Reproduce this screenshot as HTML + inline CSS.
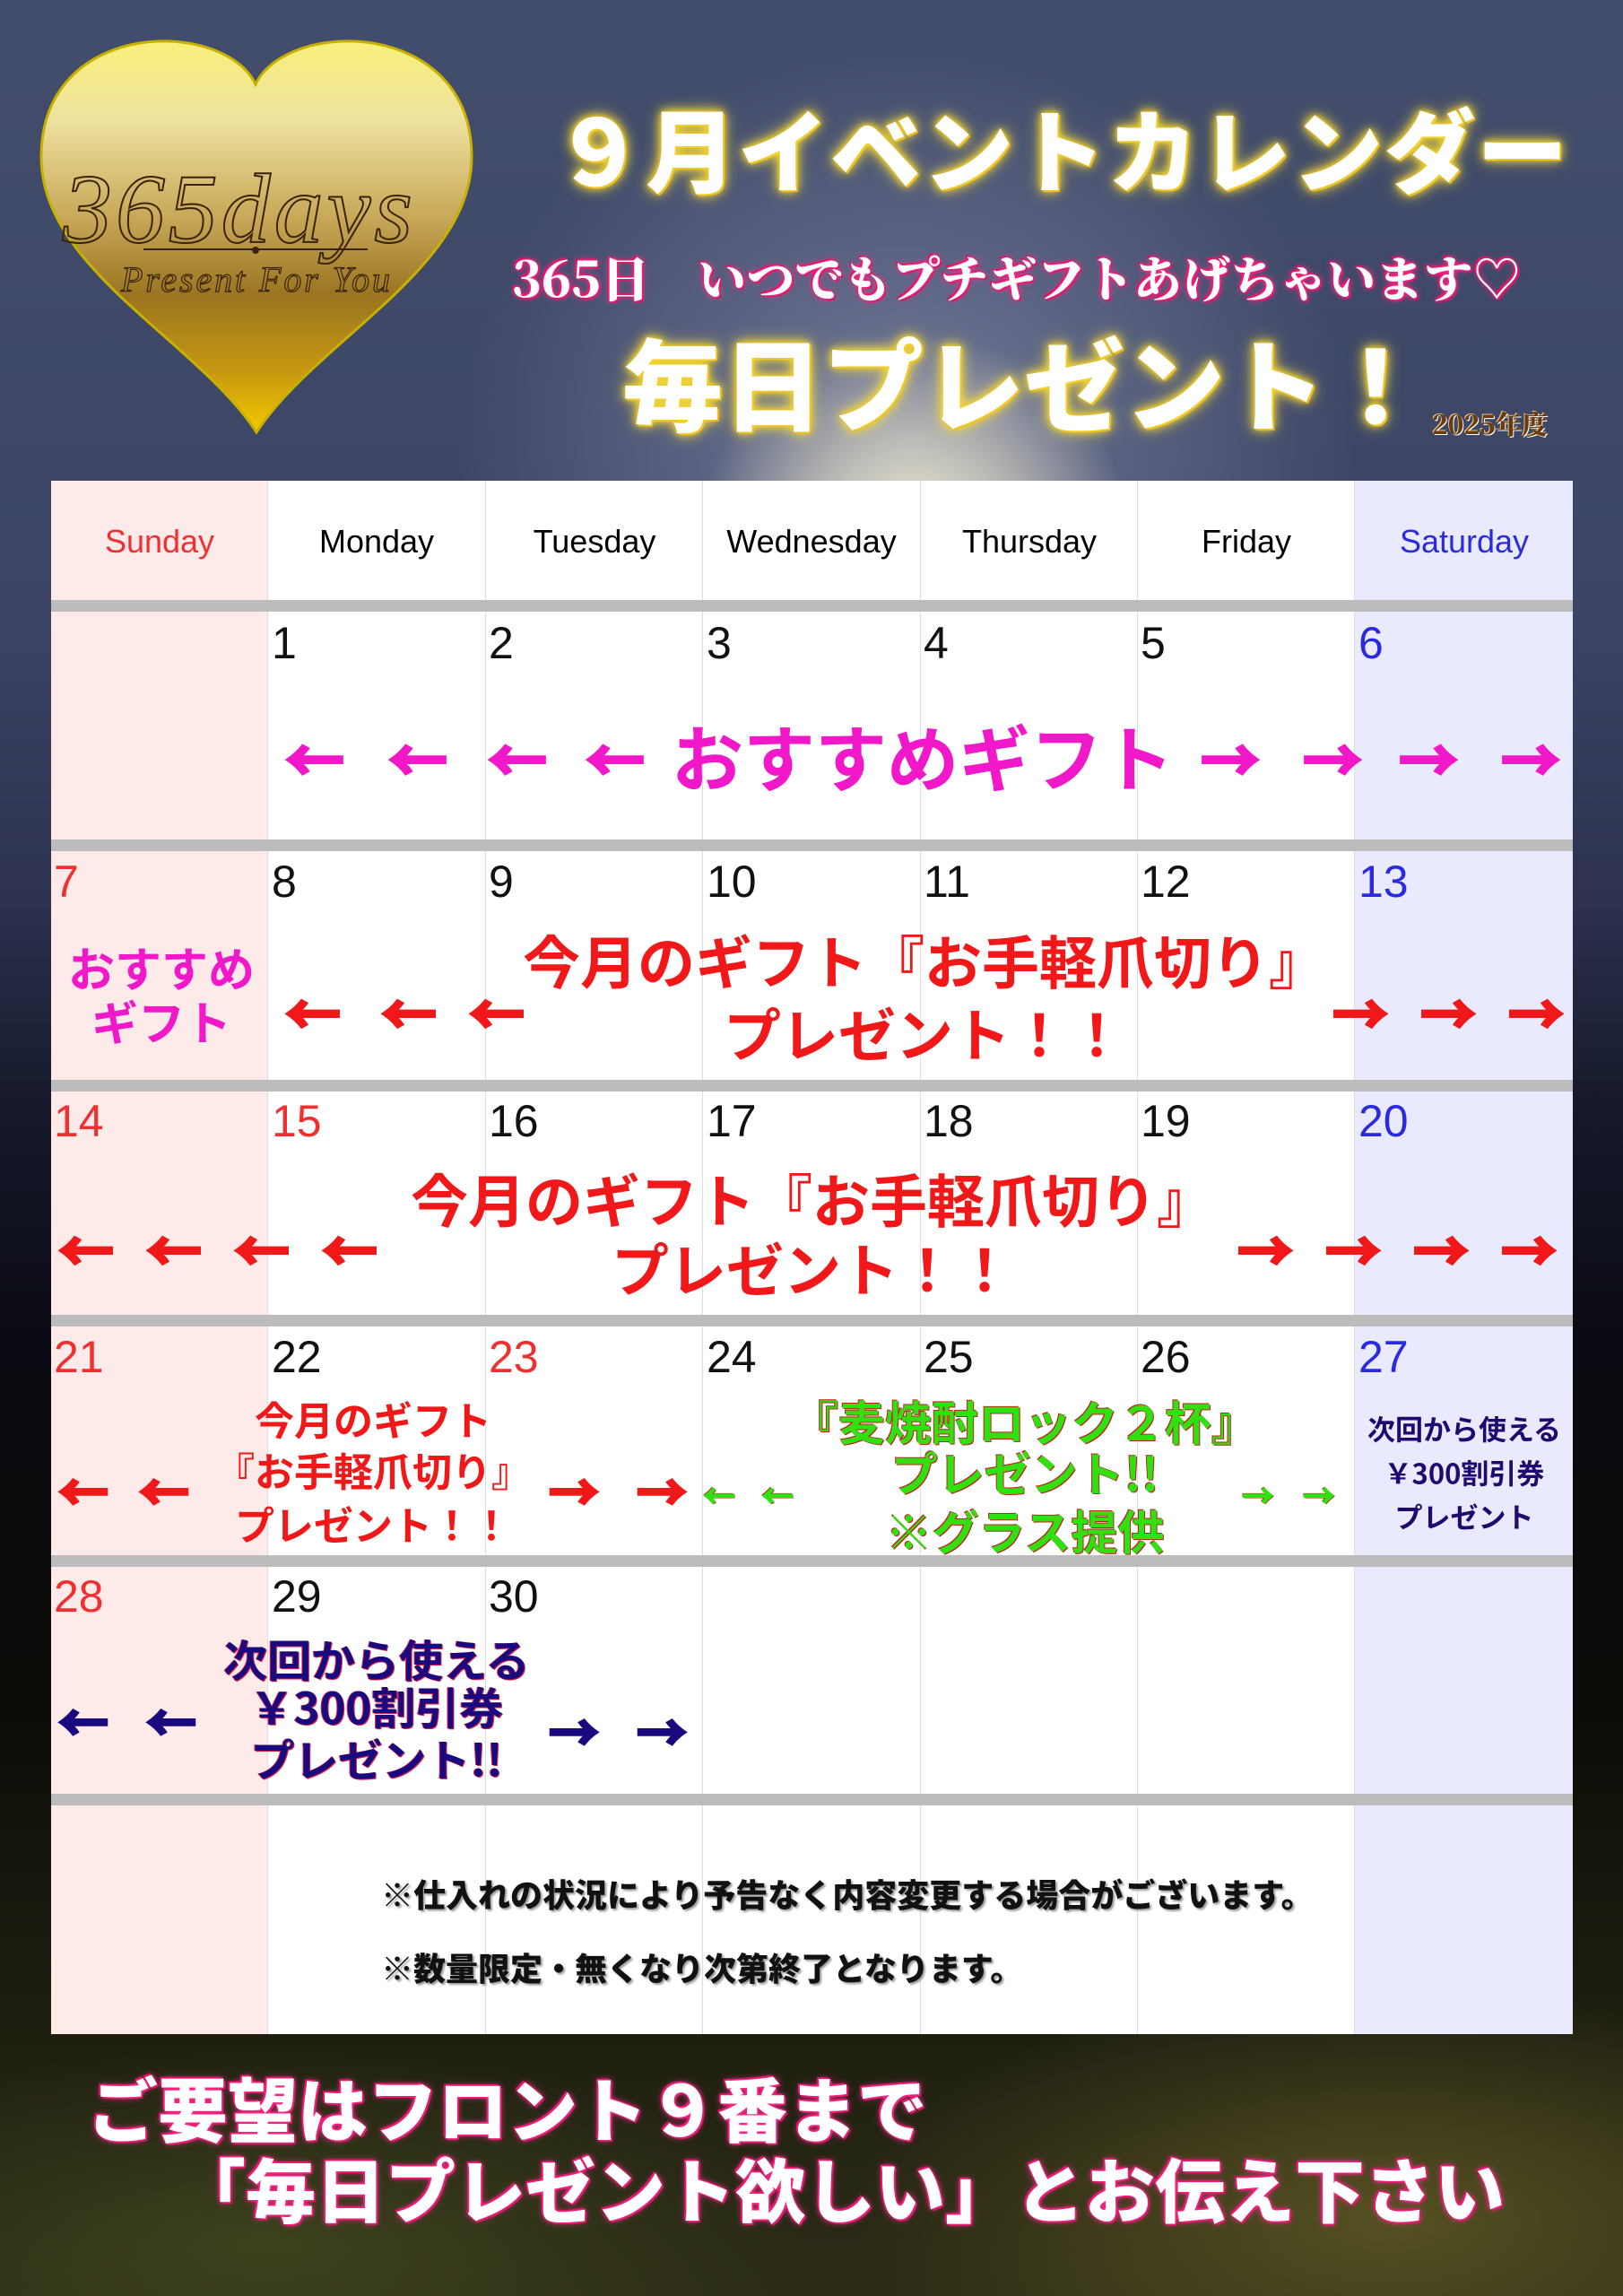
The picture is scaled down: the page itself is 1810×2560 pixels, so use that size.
<!DOCTYPE html>
<html><head><meta charset="utf-8">
<style>
*{margin:0;padding:0;box-sizing:border-box}
body{width:1810px;height:2560px;position:relative;overflow:hidden;font-family:"Liberation Sans","Noto Sans CJK JP",sans-serif;
background:
radial-gradient(ellipse 240px 230px at 1020px 600px,rgba(255,250,220,0.95),rgba(230,225,200,0.6) 50%,rgba(120,125,160,0) 100%),
radial-gradient(ellipse 500px 450px at 1010px 500px,rgba(170,175,205,0.5),rgba(70,80,110,0) 100%),
radial-gradient(ellipse 600px 260px at 1550px 2470px,rgba(140,130,50,0.45),rgba(0,0,0,0) 100%),
radial-gradient(ellipse 600px 220px at 300px 2500px,rgba(90,100,40,0.4),rgba(0,0,0,0) 100%),
linear-gradient(#434d6c 0px,#3b4463 700px,#2c3250 1000px,#141828 1250px,#0a0a12 1500px,#0c0c08 1900px,#1e1e10 2250px,#2c2c16 2560px);}
.a{position:absolute;white-space:nowrap;line-height:1}
.c{transform:translate(-50%,-50%)}
.cal{position:absolute;left:57px;top:536px;width:1697px;height:1732px;background:#fff}
.col{position:absolute;top:0;height:1732px;width:242.4px;border-right:1px solid #ddd}
.band{position:absolute;left:0;width:1697px;height:13px;background:#bcbcbc}
.dn{position:absolute;font-size:36px;transform:translate(-50%,-50%);top:68px}
.num{position:absolute;font-size:50px;line-height:1;font-family:"Liberation Sans",sans-serif;color:#111}
.ar{position:absolute;font-family:"Noto Sans CJK JP",sans-serif;font-weight:900;line-height:1;transform:translateY(-50%);-webkit-text-stroke:3px currentColor}
.red{color:#f01818;font-weight:700;font-family:"Noto Sans CJK JP",sans-serif}
.pink{color:#f018c8;font-family:"Noto Sans CJK JP",sans-serif;font-weight:700}
.grn{color:#30e010;font-weight:700;font-family:"Noto Sans CJK JP",sans-serif;text-shadow:1px 1px 0 #c02020,-1px -1px 0 #c02020}
.pur{color:#200a70;font-weight:700;font-family:"Noto Sans CJK JP",sans-serif}
.pur2{color:#1a0a80;font-weight:700;font-family:"Noto Sans CJK JP",sans-serif;text-shadow:1px 1px 0 #e02040,-1px 0 0 #e02040}
.gl{color:#fff;font-weight:900;font-family:"Noto Sans CJK JP",sans-serif;text-shadow:0 0 4px #f0c020,0 0 10px #f8e030,0 0 18px #ffe040,2px 2px 0 #e0a010}
.bt{color:#fff;font-weight:900;font-family:"Noto Sans CJK JP",sans-serif;text-shadow:0 0 3px #ff2080,0 0 8px #ff3090,2px 2px 0 #d01060,-2px -2px 0 #d01060}
</style></head><body>

<svg class="a" style="left:0;top:0" width="600" height="520">
<defs><linearGradient id="g" x1="0" y1="0" x2="0" y2="1">
<stop offset="0" stop-color="#f8f07a"/><stop offset="0.2" stop-color="#efe2a0"/><stop offset="0.45" stop-color="#c8a858"/><stop offset="0.65" stop-color="#9a7420"/><stop offset="0.85" stop-color="#c89a10"/><stop offset="1" stop-color="#f4c800"/></linearGradient></defs>
<path d="M285 94 C250 20,46 20,46 175 C46 300,220 380,286 482 C352 380,526 300,526 175 C526 20,320 20,285 94Z" fill="url(#g)" stroke="#c8b000" stroke-width="3"/>
<text x="70" y="270" font-family="Liberation Serif,serif" font-style="italic" font-size="110" fill="none" stroke="#3a2408" stroke-width="2" textLength="390">365days</text>
<line x1="160" y1="278" x2="410" y2="278" stroke="#3a2408" stroke-width="2"/>
<circle cx="285" cy="279" r="4" fill="#3a2408"/>
<text x="135" y="325" font-family="Liberation Serif,serif" font-style="italic" font-size="40" fill="none" stroke="#3a2408" stroke-width="1.2" textLength="300">Present For You</text>
</svg>

<div class="a gl" style="left:617px;top:114px;font-size:101px;letter-spacing:2px">９月イベントカレンダー</div>
<div class="a bt" style="left:571px;top:282px;font-size:54px;font-family:'Noto Serif CJK SC',serif">365日　いつでもプチギフトあげちゃいます♡</div>
<div class="a gl" style="left:694px;top:368px;font-size:112px">毎日プレゼント！</div>
<div class="a" style="left:1597px;top:458px;font-size:29px;font-weight:900;color:#6a3a10;font-family:'Noto Serif CJK SC',serif;text-shadow:1px 1px 0 #fff,-1px -1px 0 #e0c080">2025年度</div>

<div class="cal">
<div class="col" style="left:0;background:#ffeaea"></div>
<div class="col" style="left:242.4px"></div>
<div class="col" style="left:484.8px"></div>
<div class="col" style="left:727.2px"></div>
<div class="col" style="left:969.6px"></div>
<div class="col" style="left:1212px"></div>
<div class="col" style="left:1454.4px;background:#eaeaff;border-right:none"></div>
<div class="dn" style="left:121px;color:#f03030">Sunday</div>
<div class="dn" style="left:363px">Monday</div>
<div class="dn" style="left:606px">Tuesday</div>
<div class="dn" style="left:848px">Wednesday</div>
<div class="dn" style="left:1091px">Thursday</div>
<div class="dn" style="left:1333px">Friday</div>
<div class="dn" style="left:1576px;color:#2a2ae0">Saturday</div>
<div class="band" style="top:133px"></div>
<div class="band" style="top:400px"></div>
<div class="band" style="top:668px"></div>
<div class="band" style="top:930px"></div>
<div class="band" style="top:1198px"></div>
<div class="band" style="top:1464px"></div>
</div>

<div class="num" style="left:303px;top:692px">1</div>
<div class="num" style="left:545px;top:692px">2</div>
<div class="num" style="left:788px;top:692px">3</div>
<div class="num" style="left:1030px;top:692px">4</div>
<div class="num" style="left:1272px;top:692px">5</div>
<div class="num" style="left:1515px;top:692px;color:#2a2ae0">6</div>
<div class="num" style="left:60px;top:958px;color:#f03030">7</div>
<div class="num" style="left:303px;top:958px">8</div>
<div class="num" style="left:545px;top:958px">9</div>
<div class="num" style="left:788px;top:958px">10</div>
<div class="num" style="left:1030px;top:958px">11</div>
<div class="num" style="left:1272px;top:958px">12</div>
<div class="num" style="left:1515px;top:958px;color:#2a2ae0">13</div>
<div class="num" style="left:60px;top:1225px;color:#f03030">14</div>
<div class="num" style="left:303px;top:1225px;color:#f03030">15</div>
<div class="num" style="left:545px;top:1225px">16</div>
<div class="num" style="left:788px;top:1225px">17</div>
<div class="num" style="left:1030px;top:1225px">18</div>
<div class="num" style="left:1272px;top:1225px">19</div>
<div class="num" style="left:1515px;top:1225px;color:#2a2ae0">20</div>
<div class="num" style="left:60px;top:1488px;color:#f03030">21</div>
<div class="num" style="left:303px;top:1488px">22</div>
<div class="num" style="left:545px;top:1488px;color:#f03030">23</div>
<div class="num" style="left:788px;top:1488px">24</div>
<div class="num" style="left:1030px;top:1488px">25</div>
<div class="num" style="left:1272px;top:1488px">26</div>
<div class="num" style="left:1515px;top:1488px;color:#2a2ae0">27</div>
<div class="num" style="left:60px;top:1755px;color:#f03030">28</div>
<div class="num" style="left:303px;top:1755px">29</div>
<div class="num" style="left:545px;top:1755px">30</div>

<div class="a c pink" style="left:1029px;top:842px;font-size:80px">おすすめギフト</div>
<div class="ar pink" style="left:318px;top:844px;font-size:66px">←</div>
<div class="ar pink" style="left:433px;top:844px;font-size:66px">←</div>
<div class="ar pink" style="left:544px;top:844px;font-size:66px">←</div>
<div class="ar pink" style="left:653px;top:844px;font-size:66px">←</div>
<div class="ar pink" style="left:1339px;top:844px;font-size:66px">→</div>
<div class="ar pink" style="left:1453px;top:844px;font-size:66px">→</div>
<div class="ar pink" style="left:1560px;top:844px;font-size:66px">→</div>
<div class="ar pink" style="left:1674px;top:844px;font-size:66px">→</div>

<div class="a c pink" style="left:180px;top:1078px;font-size:52px">おすすめ</div>
<div class="a c pink" style="left:180px;top:1138px;font-size:52px">ギフト</div>
<div class="a c red" style="left:1031px;top:1070px;font-size:64px">今月のギフト『お手軽爪切り』</div>
<div class="a c red" style="left:1031px;top:1151px;font-size:64px">プレゼント！！</div>
<div class="ar red" style="left:318px;top:1127px;font-size:62px">←</div>
<div class="ar red" style="left:425px;top:1127px;font-size:62px">←</div>
<div class="ar red" style="left:523px;top:1127px;font-size:62px">←</div>
<div class="ar red" style="left:1486px;top:1127px;font-size:62px">→</div>
<div class="ar red" style="left:1584px;top:1127px;font-size:62px">→</div>
<div class="ar red" style="left:1682px;top:1127px;font-size:62px">→</div>

<div class="a c red" style="left:906px;top:1336px;font-size:64px">今月のギフト『お手軽爪切り』</div>
<div class="a c red" style="left:906px;top:1413px;font-size:64px">プレゼント！！</div>
<div class="ar red" style="left:65px;top:1391px;font-size:62px">←</div>
<div class="ar red" style="left:163px;top:1391px;font-size:62px">←</div>
<div class="ar red" style="left:261px;top:1391px;font-size:62px">←</div>
<div class="ar red" style="left:359px;top:1391px;font-size:62px">←</div>
<div class="ar red" style="left:1380px;top:1391px;font-size:62px">→</div>
<div class="ar red" style="left:1478px;top:1391px;font-size:62px">→</div>
<div class="ar red" style="left:1576px;top:1391px;font-size:62px">→</div>
<div class="ar red" style="left:1674px;top:1391px;font-size:62px">→</div>

<div class="a c red" style="left:416px;top:1581px;font-size:44px">今月のギフト</div>
<div class="a c red" style="left:416px;top:1638px;font-size:44px">『お手軽爪切り』</div>
<div class="a c red" style="left:416px;top:1698px;font-size:44px">プレゼント！！</div>
<div class="ar red" style="left:65px;top:1662px;font-size:56px">←</div>
<div class="ar red" style="left:155px;top:1662px;font-size:56px">←</div>
<div class="ar red" style="left:612px;top:1662px;font-size:56px">→</div>
<div class="ar red" style="left:710px;top:1662px;font-size:56px">→</div>
<div class="a c grn" style="left:1143px;top:1584px;font-size:52px">『麦焼酎ロック２杯』</div>
<div class="a c grn" style="left:1143px;top:1641px;font-size:52px">プレゼント!!</div>
<div class="a c grn" style="left:1143px;top:1706px;font-size:52px">※グラス提供</div>
<div class="ar grn" style="left:784px;top:1666px;font-size:36px;-webkit-text-stroke:1px currentColor">←</div>
<div class="ar grn" style="left:849px;top:1666px;font-size:36px;-webkit-text-stroke:1px currentColor">←</div>
<div class="ar grn" style="left:1385px;top:1666px;font-size:36px;-webkit-text-stroke:1px currentColor">→</div>
<div class="ar grn" style="left:1453px;top:1666px;font-size:36px;-webkit-text-stroke:1px currentColor">→</div>
<div class="a c pur" style="left:1633px;top:1592px;font-size:31px">次回から使える</div>
<div class="a c pur" style="left:1633px;top:1641px;font-size:31px">￥300割引券</div>
<div class="a c pur" style="left:1633px;top:1690px;font-size:31px">プレゼント</div>

<div class="a c pur2" style="left:420px;top:1849px;font-size:49px">次回から使える</div>
<div class="a c pur2" style="left:420px;top:1902px;font-size:49px">￥300割引券</div>
<div class="a c pur2" style="left:420px;top:1960px;font-size:49px">プレゼント!!</div>
<div class="ar pur2" style="left:65px;top:1919px;font-size:56px">←</div>
<div class="ar pur2" style="left:163px;top:1919px;font-size:56px">←</div>
<div class="ar pur2" style="left:612px;top:1930px;font-size:56px">→</div>
<div class="ar pur2" style="left:710px;top:1930px;font-size:56px">→</div>

<div class="a" style="left:425px;top:2093px;font-size:36px;font-weight:900;font-family:'Noto Sans CJK JP',sans-serif;color:#111;text-shadow:2px 2px 2px #999">※仕入れの状況により予告なく内容変更する場合がございます。</div>
<div class="a" style="left:425px;top:2175px;font-size:36px;font-weight:900;font-family:'Noto Sans CJK JP',sans-serif;color:#111;text-shadow:2px 2px 2px #999">※数量限定・無くなり次第終了となります。</div>

<div class="a bt" style="left:98px;top:2310px;font-size:78px">ご要望はフロント９番まで</div>
<div class="a bt" style="left:196px;top:2400px;font-size:78px">「毎日プレゼント欲しい」とお伝え下さい</div>
</body></html>
